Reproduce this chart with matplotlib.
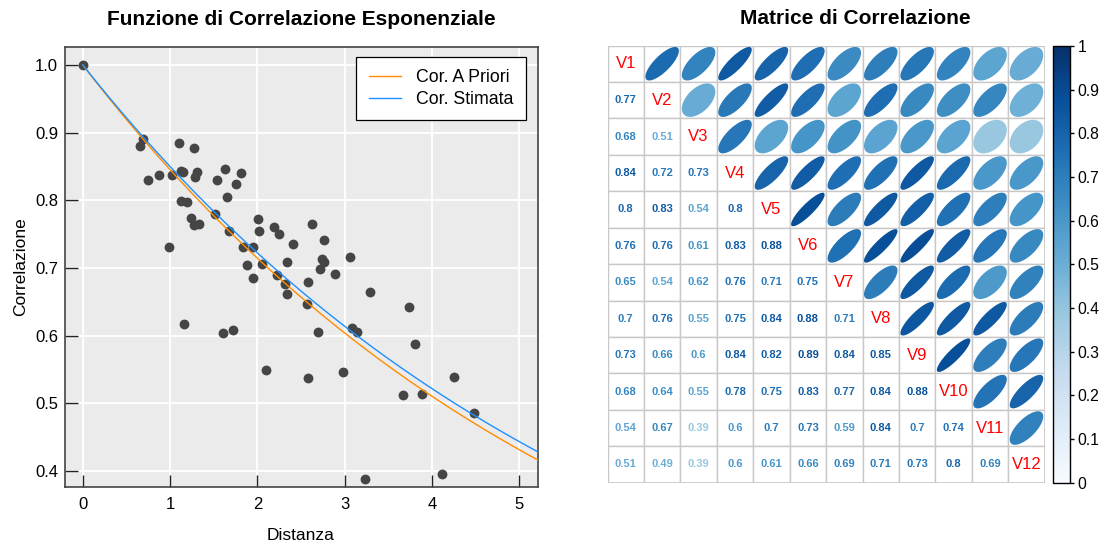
import numpy as np
import matplotlib
matplotlib.use('Agg')
import matplotlib.pyplot as plt
from matplotlib.patches import Polygon, Rectangle

plt.rcParams['font.family'] = ['Liberation Sans', 'DejaVu Sans']

# empirical correlation vs distance (one point per pair + origin)
dist = [0.0, 0.685, 0.658, 1.10, 1.27, 0.743, 0.87, 1.02, 1.128, 1.15, 1.31, 1.28,
        1.54, 1.63, 1.81, 1.76, 1.65, 1.12, 1.19, 1.235, 1.27, 1.33, 1.51, 1.67,
        2.005, 2.02, 2.19, 2.25, 2.41, 1.83, 1.95, 0.99, 1.88, 2.055, 1.955, 2.22,
        2.34, 2.32, 2.58, 2.63, 2.34, 2.57, 1.16, 1.61, 1.72, 2.10, 2.58, 2.76,
        3.06, 2.74, 2.76, 2.72, 2.89, 3.29, 3.74, 3.09, 3.14, 2.70, 3.81, 2.98,
        4.25, 3.67, 3.89, 4.48, 4.12, 3.23]
corr = [1.0, 0.890, 0.881, 0.884, 0.877, 0.830, 0.838, 0.837, 0.844, 0.842, 0.842, 0.834,
        0.830, 0.847, 0.840, 0.824, 0.805, 0.799, 0.798, 0.774, 0.763, 0.765, 0.780, 0.754,
        0.772, 0.754, 0.760, 0.751, 0.735, 0.731, 0.731, 0.731, 0.704, 0.706, 0.685, 0.690,
        0.709, 0.676, 0.679, 0.765, 0.662, 0.647, 0.618, 0.604, 0.608, 0.549, 0.538, 0.742,
        0.716, 0.713, 0.709, 0.698, 0.691, 0.664, 0.643, 0.611, 0.605, 0.606, 0.588, 0.547,
        0.539, 0.513, 0.514, 0.486, 0.395, 0.388]

# range parameters of the two exponential models
phi_prior = 5.95
phi_est = 6.15

# correlation matrix, lower triangle row by row
var_names = ['V1', 'V2', 'V3', 'V4', 'V5', 'V6', 'V7', 'V8', 'V9', 'V10', 'V11', 'V12']
lower = [
    [0.77],
    [0.68, 0.51],
    [0.84, 0.72, 0.73],
    [0.8, 0.83, 0.54, 0.8],
    [0.76, 0.76, 0.61, 0.83, 0.88],
    [0.65, 0.54, 0.62, 0.76, 0.71, 0.75],
    [0.7, 0.76, 0.55, 0.75, 0.84, 0.88, 0.71],
    [0.73, 0.66, 0.6, 0.84, 0.82, 0.89, 0.84, 0.85],
    [0.68, 0.64, 0.55, 0.78, 0.75, 0.83, 0.77, 0.84, 0.88],
    [0.54, 0.67, 0.39, 0.6, 0.7, 0.73, 0.59, 0.84, 0.7, 0.74],
    [0.51, 0.49, 0.39, 0.6, 0.61, 0.66, 0.69, 0.71, 0.73, 0.8, 0.69],
]

n = len(var_names)
R = np.eye(n)
for i, row in enumerate(lower):
    for j, v in enumerate(row):
        R[i + 1, j] = v
        R[j, i + 1] = v

W, H = 1102, 545
fig = plt.figure(figsize=(W / 100, H / 100), dpi=100)

# ---- left: exponential correlation function ----
ax = fig.add_axes([64.5 / W, 1 - 487 / H, 473 / W, 440 / H])
ax.set_facecolor('#EBEBEB')
ax.set_axisbelow(True)
ax.grid(True, color='white', lw=1.3)
ax.scatter(dist, corr, s=50, color='#454545', zorder=3, linewidths=0)
xx = np.linspace(0, 5.4, 300)
ax.plot(xx, np.exp(-xx / phi_prior), color='#FF8C00', lw=1.0, zorder=4, label='Cor. A Priori')
ax.plot(xx, np.exp(-xx / phi_est), color='#1E90FF', lw=1.0, zorder=4, label='Cor. Stimata')
ax.set_xlim(-0.21, 5.21)
ax.set_ylim(0.3764, 1.0266)
ax.set_xticks(range(6))
ax.set_yticks([0.4, 0.5, 0.6, 0.7, 0.8, 0.9, 1.0])
ax.set_yticklabels(['0.4', '0.5', '0.6', '0.7', '0.8', '0.9', '1.0'])
ax.tick_params(direction='in', length=9, width=1, color='#222222', labelsize=12)
ax.tick_params(axis='x', pad=7)
ax.tick_params(axis='y', pad=4.5)
for s in ax.spines.values():
    s.set_color('#444444')
    s.set_linewidth(1.2)
ax.set_xlabel('Distanza', fontsize=12.5, labelpad=12)
ax.set_ylabel('Correlazione', fontsize=12.5, labelpad=5)
ax.set_title('Funzione di Correlazione Esponenziale', fontsize=15, fontweight='bold', pad=16)
leg = ax.legend(loc='upper right', fontsize=12.8, frameon=True, fancybox=False,
                edgecolor='black', framealpha=1, borderpad=0.7, labelspacing=0.25,
                handlelength=1.8, handletextpad=0.85, borderaxespad=0,
                bbox_to_anchor=(1 - 12 / 473, 1 - 10 / 440))
leg.get_frame().set_linewidth(0.9)

# ---- right: correlation matrix ----
cmap = plt.get_cmap('Blues')
axm = fig.add_axes([607.5 / W, 1 - 482.7 / H, 437.2 / W, 437.2 / H])
axm.set_xlim(0, n)
axm.set_ylim(n, 0)
axm.axis('off')

t = np.linspace(0, 2 * np.pi, 99)
for i in range(n):
    for j in range(n):
        axm.add_patch(Rectangle((j, i), 1, 1, facecolor='white', edgecolor='#C8C8C8', lw=1.0, zorder=1))
        r = R[i, j]
        if i == j:
            axm.text(j + 0.5, i + 0.5, var_names[i], color='red', fontsize=12,
                     ha='center', va='center', zorder=3)
        elif j > i:
            a = np.arccos(r) / 2
            ex = np.cos(t + a) / 2 * 0.92
            ey = -np.cos(t - a) / 2 * 0.92
            axm.add_patch(Polygon(np.column_stack([j + 0.5 + ex, i + 0.5 + ey]),
                                  closed=True, facecolor=cmap(r), edgecolor='none', zorder=2))
        else:
            axm.text(j + 0.5, i + 0.5, f'{r:g}', color=cmap(r), fontsize=8, fontweight='bold',
                     ha='center', va='center', zorder=3)
axm.add_patch(Rectangle((0, 0), n, n, facecolor='none', edgecolor='#C8C8C8', lw=1.2, zorder=4))

cax = fig.add_axes([1052.7 / W, 1 - 482.7 / H, 17.3 / W, 436.7 / H])
sm = matplotlib.cm.ScalarMappable(norm=matplotlib.colors.Normalize(0, 1), cmap=cmap)
cb = fig.colorbar(sm, cax=cax)
cb.set_ticks(np.arange(0, 1.01, 0.1))
cb.set_ticklabels(['0', '0.1', '0.2', '0.3', '0.4', '0.5', '0.6', '0.7', '0.8', '0.9', '1'])
cb.outline.set_linewidth(1.0)
cax.tick_params(direction='out', length=3, width=1, labelsize=11.3, pad=2.5)
fig.text(855 / W, 1 - 18.5 / H, 'Matrice di Correlazione', fontsize=15, fontweight='bold',
         ha='center', va='center')

fig.savefig('out.png', dpi=100)
